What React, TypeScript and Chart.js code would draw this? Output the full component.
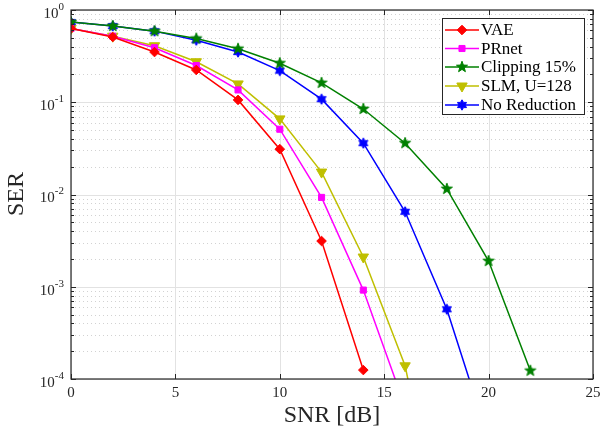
import React, { useEffect, useRef } from "react";
import { Chart, registerables } from "chart.js";

Chart.register(...registerables);

const snr = [0, 2, 4, 6, 8, 10, 12, 14, 16, 18, 20, 22];
const vae = [0.63, 0.51, 0.35, 0.224, 0.106, 0.031, 0.00313, 0.000125];
const prnet = [0.63, 0.52, 0.39, 0.25, 0.136, 0.051, 0.0093, 0.00092, 0.00005];
const clipping = [0.74, 0.67, 0.59, 0.49, 0.38, 0.265, 0.162, 0.0845, 0.036, 0.0115, 0.0019, 0.000123];
const slm = [0.63, 0.52, 0.41, 0.275, 0.158, 0.066, 0.0175, 0.0021, 0.000139, 0.000001];
const noReduction = [0.74, 0.67, 0.59, 0.47, 0.35, 0.22, 0.108, 0.036, 0.0065, 0.00057, 0.000022];

const xTicks = [0, 5, 10, 15, 20, 25];
const yDecades = [-4, -3, -2, -1, 0];
const seriesNames = ["VAE", "PRnet", "Clipping 15%", "SLM, U=128", "No Reduction"];

const FONT = "'Liberation Serif', 'Times New Roman', serif";

function makeStar(points: number, outer: number, inner: number, color: string, size: number) {
  const c = document.createElement("canvas");
  c.width = size;
  c.height = size;
  const g = c.getContext("2d")!;
  const cx = size / 2, cy = size / 2;
  g.beginPath();
  for (let i = 0; i < points * 2; i++) {
    const r = i % 2 === 0 ? outer : inner;
    const a = -Math.PI / 2 + (i * Math.PI) / points;
    const px = cx + r * Math.cos(a);
    const py = cy + r * Math.sin(a);
    if (i === 0) g.moveTo(px, py);
    else g.lineTo(px, py);
  }
  g.closePath();
  g.fillStyle = color;
  g.fill();
  g.strokeStyle = color;
  g.lineWidth = 1;
  g.stroke();
  return c;
}

function pairs(vals: number[]) {
  return vals.map((v, i) => ({ x: snr[i], y: v }));
}

export default function App() {
  const ref = useRef<HTMLCanvasElement>(null);

  useEffect(() => {
    const pent = makeStar(5, 5.8, 2.4, "#008000", 14);
    const hexa = makeStar(6, 5.2, 3, "#0000FF", 14);

    const colors = ["#FF0000", "#FF00FF", "#008000", "#BFBF00", "#0000FF"];
    const styles: any[] = ["rectRot", "rect", pent, "triangle", hexa];
    const radii = [4.8, 4.3, 6, 6, 6];
    const rotations = [0, 0, 0, 180, 0];
    const data = [vae, prnet, clipping, slm, noReduction];

    const drawMarker = (ctx: CanvasRenderingContext2D, i: number, x: number, y: number) => {
      const st = styles[i];
      const r = radii[i];
      ctx.save();
      ctx.fillStyle = colors[i];
      ctx.strokeStyle = colors[i];
      ctx.lineWidth = 1;
      if (typeof st !== "string") {
        ctx.drawImage(st, x - st.width / 2, y - st.height / 2);
      } else {
        ctx.beginPath();
        if (st === "rectRot") {
          ctx.moveTo(x, y - r);
          ctx.lineTo(x + r, y);
          ctx.lineTo(x, y + r);
          ctx.lineTo(x - r, y);
        } else if (st === "rect") {
          const s = r * Math.SQRT1_2;
          ctx.rect(x - s, y - s, 2 * s, 2 * s);
        } else if (st === "triangle") {
          for (let k = 0; k < 3; k++) {
            const a = Math.PI + (k * 2 * Math.PI) / 3;
            const px = x + Math.sin(a) * r;
            const py = y - Math.cos(a) * r;
            if (k === 0) ctx.moveTo(px, py);
            else ctx.lineTo(px, py);
          }
        }
        ctx.closePath();
        ctx.fill();
        ctx.stroke();
      }
      ctx.restore();
    };

    const matlabPlugin = {
      id: "matlabAxes",
      beforeDatasetsDraw(chart: any) {
        const { ctx, chartArea: a, scales } = chart;
        const xs = scales.x, ys = scales.y;
        ctx.save();
        ctx.lineWidth = 1;
        ctx.strokeStyle = "#d2d2d2";
        ctx.setLineDash([1, 3]);
        for (let e = -4; e < 0; e++) {
          for (let m = 2; m <= 9; m++) {
            const py = Math.round(ys.getPixelForValue(m * Math.pow(10, e))) + 0.5;
            ctx.beginPath();
            ctx.moveTo(a.left, py);
            ctx.lineTo(a.right, py);
            ctx.stroke();
          }
        }
        ctx.setLineDash([]);
        ctx.strokeStyle = "#e2e2e2";
        for (const e of yDecades) {
          const py = Math.round(ys.getPixelForValue(Math.pow(10, e))) + 0.5;
          ctx.beginPath();
          ctx.moveTo(a.left, py);
          ctx.lineTo(a.right, py);
          ctx.stroke();
        }
        for (const t of xTicks) {
          const px = Math.round(xs.getPixelForValue(t)) + 0.5;
          ctx.beginPath();
          ctx.moveTo(px, a.top);
          ctx.lineTo(px, a.bottom);
          ctx.stroke();
        }
        ctx.restore();
      },
      afterDraw(chart: any) {
        const { ctx, chartArea: a, scales } = chart;
        const xs = scales.x, ys = scales.y;
        ctx.save();
        ctx.strokeStyle = "#262626";
        ctx.lineWidth = 1.2;
        ctx.strokeRect(a.left, a.top, a.right - a.left, a.bottom - a.top);
        ctx.lineWidth = 1;
        for (const t of xTicks) {
          const px = Math.round(xs.getPixelForValue(t)) + 0.5;
          ctx.beginPath();
          ctx.moveTo(px, a.bottom);
          ctx.lineTo(px, a.bottom - 5);
          ctx.moveTo(px, a.top);
          ctx.lineTo(px, a.top + 5);
          ctx.stroke();
        }
        for (let e = -4; e <= 0; e++) {
          for (let m = 1; m <= 9; m++) {
            if (e === 0 && m > 1) break;
            const py = Math.round(ys.getPixelForValue(m * Math.pow(10, e))) + 0.5;
            const len = m === 1 ? 5 : 3;
            ctx.beginPath();
            ctx.moveTo(a.left, py);
            ctx.lineTo(a.left + len, py);
            ctx.moveTo(a.right, py);
            ctx.lineTo(a.right - len, py);
            ctx.stroke();
          }
        }
        ctx.fillStyle = "#262626";
        ctx.font = `15px ${FONT}`;
        ctx.textAlign = "center";
        ctx.textBaseline = "middle";
        for (const t of xTicks) {
          ctx.fillText(String(t), xs.getPixelForValue(t), a.bottom + 14);
        }
        for (const e of yDecades) {
          const py = ys.getPixelForValue(Math.pow(10, e));
          const exp = e === 0 ? "0" : "-" + String(-e);
          ctx.font = `11px ${FONT}`;
          const ew = ctx.measureText(exp).width;
          ctx.font = `15px ${FONT}`;
          const bw = ctx.measureText("10").width;
          const right = a.left - 7;
          ctx.textAlign = "left";
          ctx.textBaseline = "middle";
          ctx.fillText("10", right - ew - bw, py + 4);
          ctx.font = `11px ${FONT}`;
          ctx.fillText(exp, right - ew, py - 3);
        }
        ctx.font = `24px ${FONT}`;
        ctx.textAlign = "center";
        ctx.textBaseline = "middle";
        ctx.fillText("SNR [dB]", (a.left + a.right) / 2, 416);
        ctx.save();
        ctx.translate(17, 194);
        ctx.rotate(-Math.PI / 2);
        ctx.fillText("SER", 0, 0);
        ctx.restore();
        const lx = 442, ly = 18, lw = 142, lh = 96;
        ctx.fillStyle = "#ffffff";
        ctx.fillRect(lx, ly, lw, lh);
        ctx.strokeStyle = "#262626";
        ctx.lineWidth = 1;
        ctx.strokeRect(lx + 0.5, ly + 0.5, lw, lh);
        const rowY = [30, 48.5, 67, 86, 105];
        for (let i = 0; i < 5; i++) {
          const y = rowY[i];
          ctx.strokeStyle = colors[i];
          ctx.lineWidth = 1.5;
          ctx.beginPath();
          ctx.moveTo(445, y);
          ctx.lineTo(479, y);
          ctx.stroke();
          drawMarker(ctx, i, 462, y);
          ctx.fillStyle = "#000000";
          ctx.font = `17px ${FONT}`;
          ctx.textAlign = "left";
          ctx.textBaseline = "middle";
          ctx.fillText(seriesNames[i], 481, y + 1);
        }
        ctx.restore();
      },
    };

    const chart = new Chart(ref.current!, {
      type: "line",
      data: {
        datasets: data.map((d, i) => ({
          label: seriesNames[i],
          data: pairs(d),
          borderColor: colors[i],
          backgroundColor: colors[i],
          borderWidth: 1.5,
          pointStyle: styles[i],
          pointRadius: radii[i],
          pointRotation: rotations[i],
          pointBorderWidth: 1,
          pointBackgroundColor: colors[i],
          pointBorderColor: colors[i],
          tension: 0,
          fill: false,
        })),
      },
      options: {
        animation: false,
        responsive: false,
        maintainAspectRatio: false,
        layout: { padding: { top: 10, right: 8, left: 0, bottom: 0 } },
        plugins: { legend: { display: false }, tooltip: { enabled: false } },
        scales: {
          x: {
            type: "linear",
            min: 0,
            max: 25,
            grid: { display: false },
            border: { display: false },
            ticks: { display: false },
            afterFit: (s: any) => { s.height = 53; },
          },
          y: {
            type: "logarithmic",
            min: 1e-4,
            max: 1,
            grid: { display: false },
            border: { display: false },
            ticks: { display: false },
            afterFit: (s: any) => { s.width = 71; },
          },
        },
      },
      plugins: [matlabPlugin],
    } as any);
    return () => chart.destroy();
  }, []);

  return (
    <div style={{ position: "fixed", left: 0, top: 0, width: 601, height: 432, background: "#fff" }}>
      <canvas ref={ref} width={601} height={432} style={{ width: 601, height: 432 }} />
    </div>
  );
}
